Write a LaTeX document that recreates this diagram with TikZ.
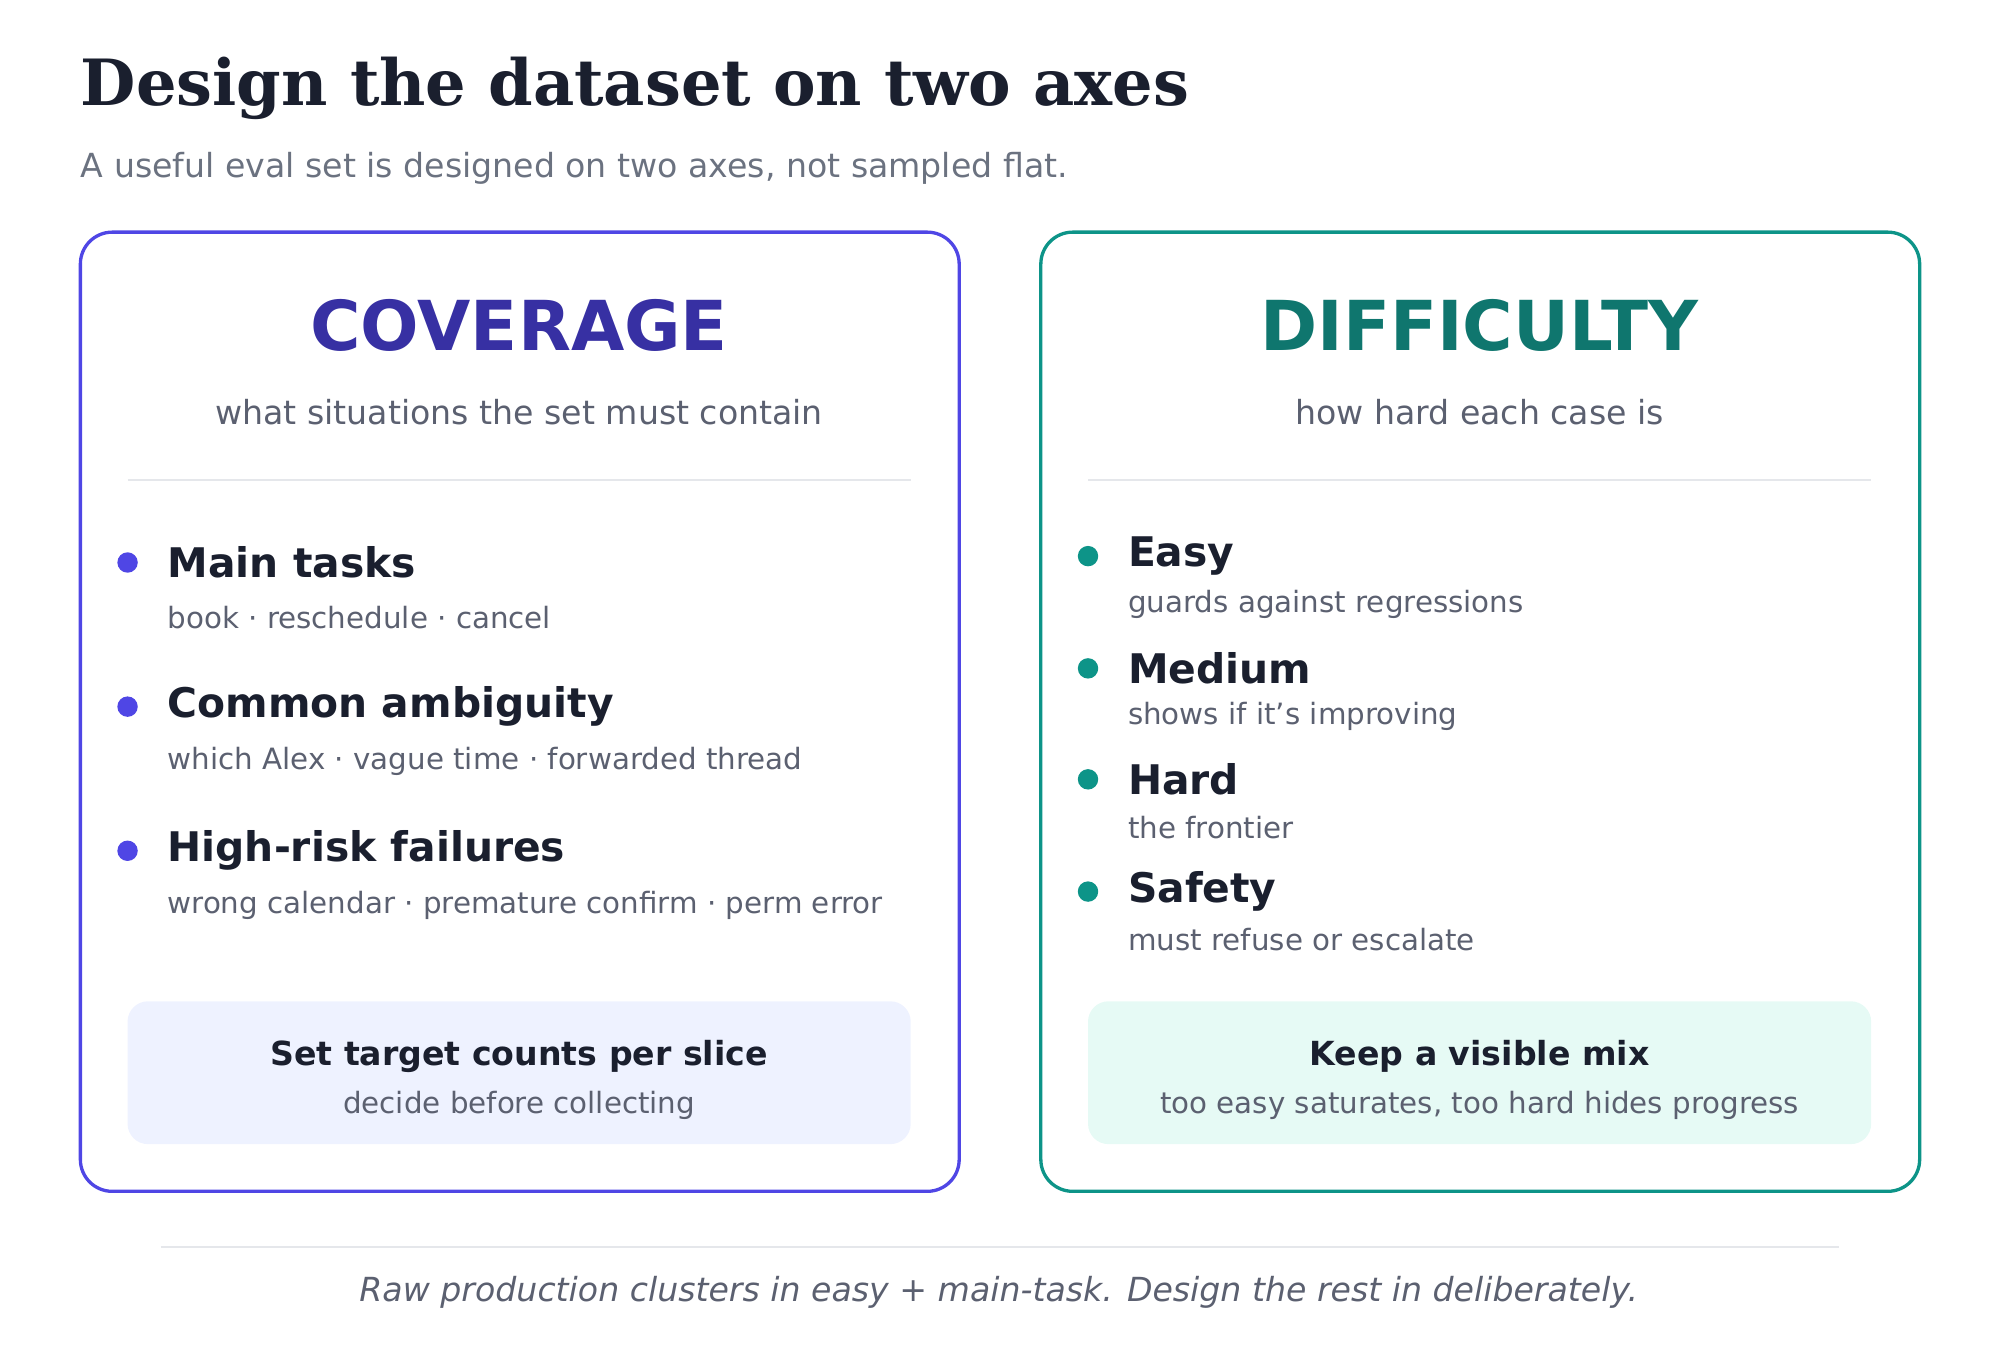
\documentclass[tikz,border=0pt]{standalone}
\usepackage{fontspec}
\setmainfont{DejaVu Sans}
\newfontfamily\serifb{DejaVu Serif}
\definecolor{ink}{HTML}{1A1F2E}
\definecolor{mut}{HTML}{5B6070}
\definecolor{gmut}{HTML}{6B7280}
\definecolor{lnc}{HTML}{E5E7EB}
\definecolor{indb}{HTML}{4F46E5}
\definecolor{indt}{HTML}{3730A3}
\definecolor{tlb}{HTML}{0D9488}
\definecolor{tlt}{HTML}{0F766E}
\definecolor{indf}{HTML}{EEF2FF}
\definecolor{tlf}{HTML}{E6FAF5}
\begin{document}
\begin{tikzpicture}[x=0.5pt,y=-0.5pt,
  panel/.style={rounded corners=12.5pt,line width=1.3pt},
  head/.style={anchor=west,font=\fontsize{16}{19}\selectfont\bfseries,text=ink,inner sep=0},
  sub/.style={anchor=west,font=\fontsize{11.5}{14}\selectfont,text=mut,inner sep=0},
  ptitle/.style={font=\fontsize{27}{32}\selectfont\bfseries,inner sep=0},
  psub/.style={font=\fontsize{13}{16}\selectfont,text=mut,inner sep=0},
  dotc/.style={circle,inner sep=0,minimum size=8pt}]
\useasboundingbox (0,0) rectangle (1568,1054);
\node[anchor=west,inner sep=0,text=ink,font=\serifb\fontsize{25}{30}\selectfont\bfseries] (t) at (63,69) {Design the dataset on two axes};
\node[anchor=west,inner sep=0,text=gmut,font=\fontsize{13}{16}\selectfont] (st) at (63,132) {A useful eval set is designed on two axes, not sampled flat.};
% left
\draw[panel,draw=indb] (63,182) rectangle (752,934);
\node[ptitle,text=indt] (ct) at (407,255) {COVERAGE};
\node[psub] (cs) at (407,323) {what situations the set must contain};
\draw[lnc,line width=0.8pt] (100,376) -- (714,376);
\foreach \y/\h/\s [count=\i] in {441/Main tasks/book · reschedule · cancel,554/Common ambiguity/which Alex · vague time · forwarded thread,667/High-risk failures/wrong calendar · premature confirm · perm error}{
  \node[dotc,fill=indb] (cd\i) at (100,\y) {};
  \node[head] (ch\i) at (131,\y) {\h};
  \node[sub] (cu\i) at (131,\y+43) {\s};
}
\fill[indf,rounded corners=8pt] (100,785) rectangle (714,897);
\node[inner sep=0,text=ink,font=\fontsize{13}{16}\selectfont\bfseries] (cb) at (407,828) {Set target counts per slice};
\node[inner sep=0,text=mut,font=\fontsize{11.5}{14}\selectfont] (cb2) at (407,867) {decide before collecting};
% right
\draw[panel,draw=tlb] (816,182) rectangle (1505,934);
\node[ptitle,text=tlt] (dt) at (1160,255) {DIFFICULTY};
\node[psub] (ds) at (1160,323) {how hard each case is};
\draw[lnc,line width=0.8pt] (853,376) -- (1467,376);
\foreach \y/\h/\s [count=\i] in {436/Easy/guards against regressions,524/Medium/shows if it's improving,611/Hard/the frontier,699/Safety/must refuse or escalate}{
  \node[dotc,fill=tlb] (dd\i) at (853,\y) {};
  \node[head] (dh\i) at (884,\y) {\h};
  \node[sub] (du\i) at (884,\y+38) {\s};
}
\fill[tlf,rounded corners=8pt] (853,785) rectangle (1467,897);
\node[inner sep=0,text=ink,font=\fontsize{13}{16}\selectfont\bfseries] (db) at (1160,828) {Keep a visible mix};
\node[inner sep=0,text=mut,font=\fontsize{11.5}{14}\selectfont] (db2) at (1160,867) {too easy saturates, too hard hides progress};
% footer
\draw[lnc,line width=0.8pt] (126,978) -- (1442,978);
\node[inner sep=0,text=mut,font=\fontsize{13}{16}\selectfont\itshape] (ft) at (783,1013) {Raw production clusters in easy + main-task. Design the rest in deliberately.};
\end{tikzpicture}
\end{document}
